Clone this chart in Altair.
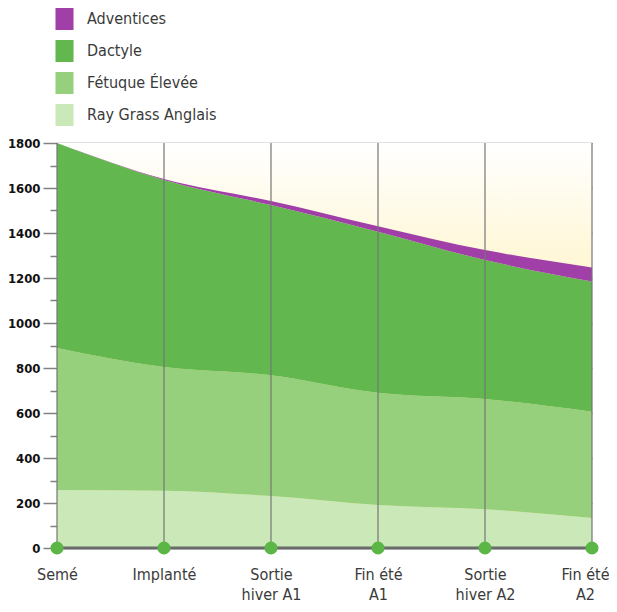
import altair as alt
import pandas as pd

# ---- data ----
stages = ["Semé", "Implanté", "Sortie|hiver A1", "Fin été|A1", "Sortie|hiver A2", "Fin été|A2"]
species = ["Adventices", "Dactyle", "Fétuque Élevée", "Ray Grass Anglais"]
colors = ["#A13FA8", "#62B74F", "#96D07D", "#CBE9B8"]
ray_grass = [258, 255, 231, 191, 172, 133]
fetuque = [631, 549, 537, 499, 490, 473]
dactyle = [911, 832, 756, 716, 618, 578]
adventices = [0, 4, 18, 24, 44, 63]
y_ticks = list(range(0, 1801, 100))

series = {
    "Ray Grass Anglais": ray_grass,
    "Fétuque Élevée": fetuque,
    "Dactyle": dactyle,
    "Adventices": adventices,
}
rows = []
for rank, (name, vals) in enumerate(series.items()):
    for st, v in zip(stages, vals):
        rows.append({"stage": st, "species": name, "value": v, "rank": rank})
df = pd.DataFrame(rows)
stage_df = pd.DataFrame({"stage": stages})
one = pd.DataFrame({"a": [0]})

FONT = "DejaVu Sans Condensed, Roboto, sans-serif"

xscale = alt.Scale(type="point", domain=stages, padding=0)
yscale = alt.Scale(domain=[0, 1800], nice=False, zero=True)

major = "datum.value % 200 == 0"
last = f"datum.value == '{stages[-1]}'"
xaxis = alt.Axis(
    title=None, grid=False, ticks=False, domain=False,
    labelExpr="split(datum.label, '|')", labelFont=FONT, labelFontSize=16,
    labelColor="#3a3a3a", labelPadding=18, labelLineHeight=20, labelAngle=0,
    labelOverlap=False, labelBound=False,
    labelOffset={"condition": {"test": last, "value": -7}, "value": 0},
)
yaxis = alt.Axis(
    title=None, values=y_ticks, domain=False, format="d",
    labelExpr=f"{major} ? datum.label : ''",
    labelFont=FONT, labelFontWeight="bold", labelFontSize=13, labelColor="#111111",
    labelPadding=3,
    tickColor="#808080", tickWidth=1.5,
    tickSize={"condition": {"test": major, "value": 14}, "value": 7},
    grid=True, gridColor="#8a8a8a", gridWidth=1.5,
    gridOpacity={"condition": {"test": major, "value": 1}, "value": 0},
)

gradient = alt.Gradient(
    gradient="linear",
    stops=[
        alt.GradientStop(color="#FFFFFF", offset=0),
        alt.GradientStop(color="#FFF8DC", offset=0.25),
        alt.GradientStop(color="#FFF1BC", offset=0.5),
        alt.GradientStop(color="#FFEFB0", offset=1),
    ],
    x1=0, x2=0, y1=0, y2=1,
)

background = alt.Chart(one).mark_rect(color=gradient).encode(
    x=alt.X(datum=stages[0], type="ordinal", scale=xscale, axis=xaxis),
    x2=alt.X2(datum=stages[-1]),
    y=alt.Y(datum=0, type="quantitative", scale=yscale, axis=yaxis),
    y2=alt.Y2(datum=1800),
)

areas = alt.Chart(df).mark_area(interpolate="monotone", opacity=1).encode(
    x=alt.X("stage:O", scale=xscale, axis=xaxis, sort=stages),
    y=alt.Y("value:Q", stack="zero", scale=yscale, axis=yaxis),
    color=alt.Color(
        "species:N",
        scale=alt.Scale(domain=species, range=colors),
        legend=alt.Legend(
            orient="none", legendX=-3.5, legendY=-135, title=None,
            symbolType="M-0.82,-1H0.82V1H-0.82Z", symbolSize=484,
            symbolStrokeWidth=0, symbolOpacity=1,
            labelFont=FONT, labelFontSize=16, labelColor="#3a3a3a",
            labelOffset=11.5, rowPadding=10, padding=0,
        ),
    ),
    order=alt.Order("rank:Q", sort="ascending"),
)

vlines = alt.Chart(stage_df).mark_rule(color="#767676", strokeWidth=1.2).encode(
    x=alt.X("stage:O", scale=xscale, axis=xaxis),
    y=alt.Y(datum=0, type="quantitative", scale=yscale, axis=yaxis),
    y2=alt.Y2(datum=1800),
)

baseline = alt.Chart(one).mark_rule(color="#6b6b6b", strokeWidth=3).encode(
    x=alt.X(datum=stages[0], type="ordinal", scale=xscale, axis=xaxis),
    x2=alt.X2(datum=stages[-1]),
    y=alt.Y(datum=0, type="quantitative", scale=yscale, axis=yaxis),
)

dots = alt.Chart(stage_df).mark_circle(size=170, color="#5CB646", opacity=1).encode(
    x=alt.X("stage:O", scale=xscale, axis=xaxis),
    y=alt.Y(datum=0, type="quantitative", scale=yscale, axis=yaxis),
)

chart = alt.layer(background, areas, vlines, baseline, dots).properties(
    width=535,
    height=405,
    autosize=alt.AutoSizeParams(type="none"),
    padding={"left": 49, "top": 135, "right": 17, "bottom": 56},
    background="white",
).configure_view(stroke=None)

chart.save("out.html", embed_options={"renderer": "svg", "actions": False})
